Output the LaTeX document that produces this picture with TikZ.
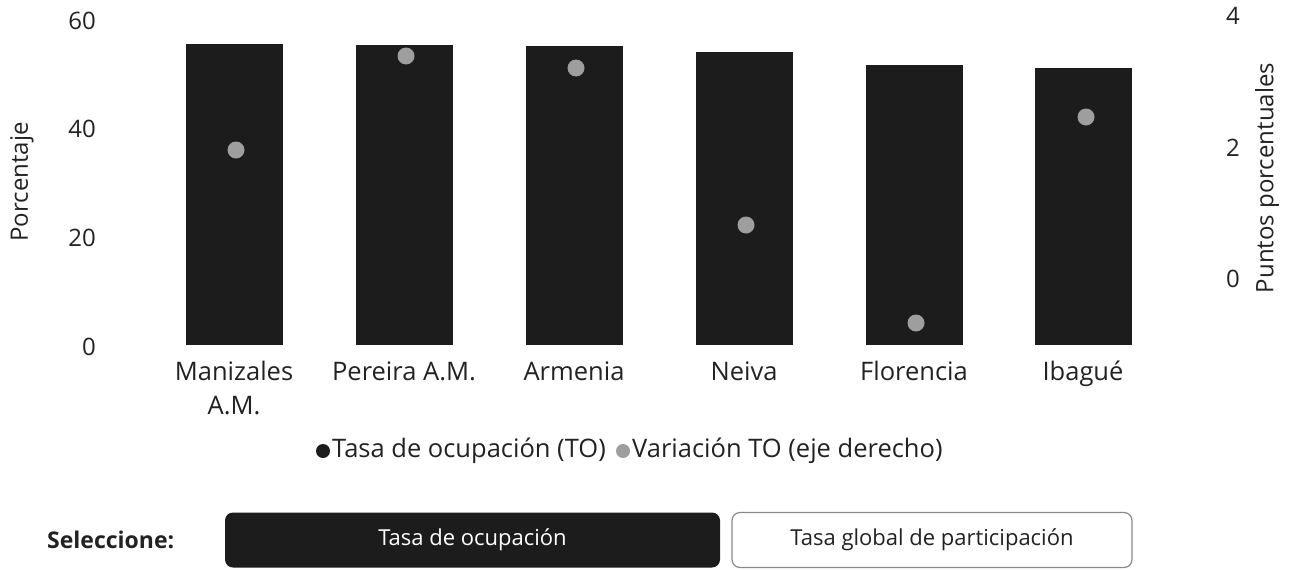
\documentclass[tikz,border=0pt]{standalone}
\usepackage{fontspec}
\setmainfont{Open Sans}
\definecolor{barc}{HTML}{1C1C1C}
\definecolor{dotc}{HTML}{9E9E9E}
\definecolor{txt}{HTML}{222222}
\definecolor{btnborder}{HTML}{8A8A8A}
\begin{document}
\begin{tikzpicture}[x=1pt,y=-1pt,
  lbl/.style={font=\fontsize{24}{30}\selectfont, text=txt, inner sep=0pt},
  cat/.style={font=\fontsize{25.5}{32}\selectfont, text=txt, inner sep=0pt, anchor=base},
  bar/.style={fill=barc, draw=none, minimum width=97pt, inner sep=0pt, anchor=south},
  pt/.style={circle, fill=dotc, minimum size=17pt, inner sep=0pt},
  legdot/.style={circle, minimum size=14pt, inner sep=0pt},
  btn/.style={rounded corners=8pt, minimum height=55pt, inner sep=0pt, font=\fontsize{22}{28}\selectfont}
]
\useasboundingbox (0,0) rectangle (1293,570);

% left axis
\node[lbl, anchor=east] (l60) at (96,21) {60};
\node[lbl, anchor=east] (l40) at (96,129) {40};
\node[lbl, anchor=east] (l20) at (96,238) {20};
\node[lbl, anchor=east] (l0)  at (96,347) {0};
\node[lbl, rotate=90] (ylab) at (22,182) {Porcentaje};

% right axis
\node[lbl, anchor=west] (r4) at (1226,16) {4};
\node[lbl, anchor=west] (r2) at (1226,148) {2};
\node[lbl, anchor=west] (r0) at (1226,279) {0};
\node[lbl, rotate=90] (y2lab) at (1267,178) {Puntos porcentuales};

% bars
\node[bar, minimum height=301pt] (b1) at (234,345) {};
\node[bar, minimum height=300pt] (b2) at (404,345) {};
\node[bar, minimum height=299pt] (b3) at (574,345) {};
\node[bar, minimum height=293pt] (b4) at (744,345) {};
\node[bar, minimum height=280pt] (b5) at (914,345) {};
\node[bar, minimum height=277pt] (b6) at (1083,345) {};

% variation dots
\node[pt] (d1) at (236,150) {};
\node[pt] (d2) at (406,56) {};
\node[pt] (d3) at (576,68) {};
\node[pt] (d4) at (746,225) {};
\node[pt] (d5) at (916,323) {};
\node[pt] (d6) at (1086,117) {};

% category labels
\node[cat] (c1) at (234,380) {Manizales};
\node[cat] (c1b) at (234,414) {A.M.};
\node[cat] (c2) at (404,380) {Pereira A.M.};
\node[cat] (c3) at (574,380) {Armenia};
\node[cat] (c4) at (744,380) {Neiva};
\node[cat] (c5) at (914,380) {Florencia};
\node[cat] (c6) at (1083,380) {Ibagué};

% legend
\node[legdot, fill=barc] (ld1) at (323,451) {};
\node[cat, anchor=west] (lt1) at (332,451) {Tasa de ocupación (TO)};
\node[legdot, fill=dotc] (ld2) at (623,451) {};
\node[cat, anchor=west] (lt2) at (632,451) {Variación TO (eje derecho)};

% selector
\node[lbl, anchor=west, font=\fontsize{23}{28}\selectfont\bfseries] (sel) at (47,540) {Seleccione:};
\node[btn, fill=barc, text=white, minimum width=495pt] (bt1) at (472.5,540) {Tasa de ocupación};
\node[btn, fill=white, draw=btnborder, line width=1.2pt, text=txt, minimum width=400pt] (bt2) at (932,540) {Tasa global de participación};
\end{tikzpicture}
\end{document}
